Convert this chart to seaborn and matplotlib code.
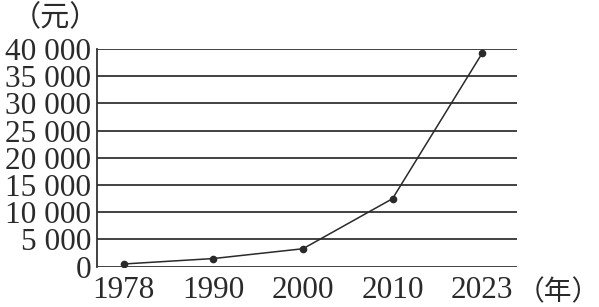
import matplotlib
matplotlib.use("Agg")
import matplotlib.pyplot as plt
import seaborn as sns
import pandas as pd

years = ["1978", "1990", "2000", "2010", "2023"]
income = [500, 1500, 3300, 12500, 39200]
yticks = [0, 5000, 10000, 15000, 20000, 25000, 30000, 35000, 40000]
ytick_labels = ["0", "5 000", "10 000", "15 000", "20 000", "25 000", "30 000", "35 000", "40 000"]

sns.set_theme(style="white")
plt.rcParams['font.family'] = ['Liberation Serif', 'Noto Sans CJK SC', 'DejaVu Sans']

df = pd.DataFrame({"year": years, "income": income})

fig = plt.figure(figsize=(5.99, 3.07), dpi=100)
ax = fig.add_axes([97/599, 40.3/307, (517-97)/599, (266.7-49)/307])

for yv in yticks:
    ax.axhline(yv, color="#333333", lw=1.3, zorder=1)

sns.lineplot(data=df, x="year", y="income", ax=ax, color="#2a2a2a", lw=1.1,
             marker="o", markersize=5.5, markeredgewidth=0, zorder=3)

ax.set_xlim(-0.30, 4.39)
ax.set_ylim(0, 40000)
ax.set_yticks(yticks)
ax.set_yticklabels(ytick_labels)
ax.set_xlabel("")
ax.set_ylabel("")
for s in ["top", "right", "bottom"]:
    ax.spines[s].set_visible(False)
ax.spines["left"].set_color("#333333")
ax.spines["left"].set_linewidth(1.3)
ax.tick_params(axis="both", length=0, labelsize=22.5, colors="#2a2a2a")
ax.tick_params(axis="y", pad=4)
ax.tick_params(axis="x", pad=7)

fig.text(55/599, 1 - 26/307, "（元）", ha="center", va="baseline", fontsize=21,
         color="#2a2a2a", family=["Noto Sans CJK SC"])
fig.text(558/599, 1 - 300/307, "（年）", ha="center", va="baseline", fontsize=20,
         color="#2a2a2a", family=["Noto Sans CJK SC"])

fig.savefig("out.png", dpi=100)
